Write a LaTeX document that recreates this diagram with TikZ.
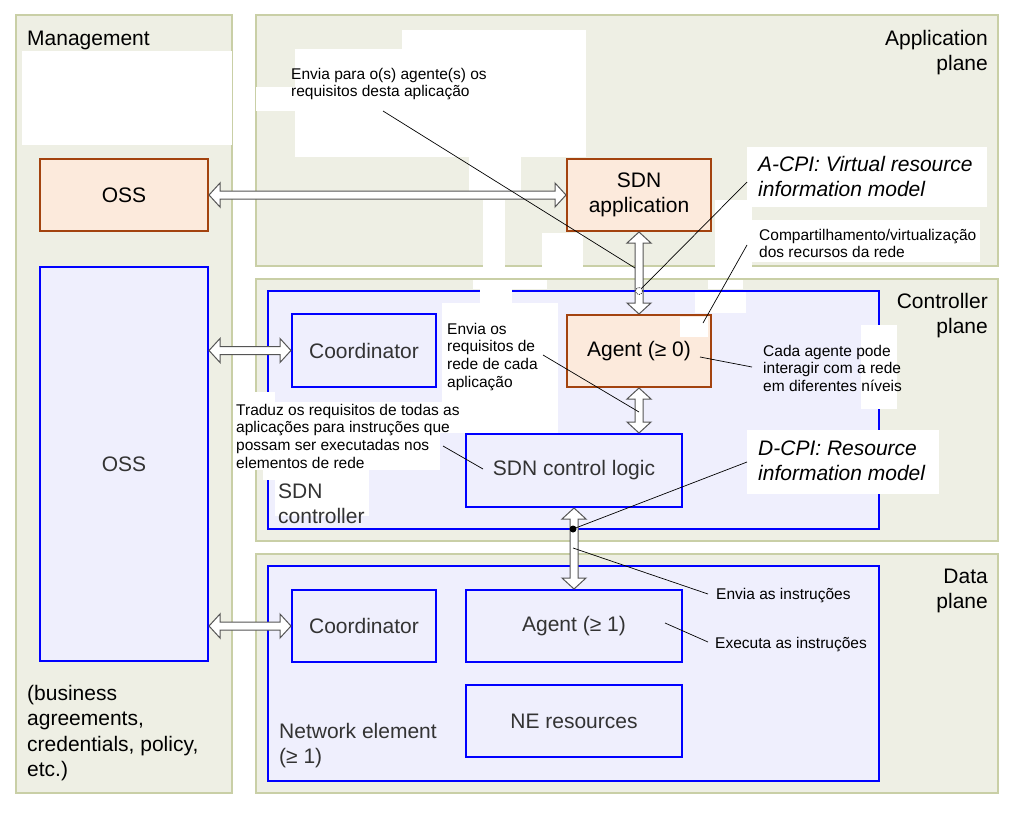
\documentclass[tikz,border=0pt]{standalone}
\usepackage{fontspec}
\setmainfont{Liberation Sans}
\usetikzlibrary{calc}
\definecolor{panelfill}{HTML}{EEEFE4}
\definecolor{panelline}{HTML}{C9CFA6}
\definecolor{bluefill}{HTML}{EFEFFD}
\definecolor{boxblue}{HTML}{0000FF}
\definecolor{orangefill}{HTML}{FCEADC}
\definecolor{orangeline}{HTML}{A3430F}
\definecolor{textgray}{HTML}{333333}
\definecolor{arrowgray}{HTML}{555555}
\newcommand\bigfont{\fontsize{21}{25.5}\selectfont}
\newcommand\smallfont{\fontsize{15.5}{17.8}\selectfont}
\newcommand\Lft[1]{\vtop{\halign{##\hfil\cr#1\crcr}}}
\newcommand\Rgt[1]{\vtop{\halign{\hfil##\cr#1\crcr}}}
\newcommand\Ctr[1]{\vtop{\halign{\hfil##\hfil\cr#1\crcr}}}
\newcommand\varrow[2]{%
  \path[hollow] let \p1=(#1), \p2=(#2) in
  (\x1,\y1) -- (\x1+12pt,\y1-11pt) -- (\x1+4pt,\y1-11pt) -- (\x1+4pt,\y2+11pt)
  -- (\x1+12pt,\y2+11pt) -- (\x1,\y2) -- (\x1-12pt,\y2+11pt) -- (\x1-4pt,\y2+11pt)
  -- (\x1-4pt,\y1-11pt) -- (\x1-12pt,\y1-11pt) -- cycle;}
\newcommand\harrow[2]{%
  \path[hollow] let \p1=(#1), \p2=(#2) in
  (\x1,\y1) -- (\x1+11pt,\y1+12pt) -- (\x1+11pt,\y1+4pt) -- (\x2-11pt,\y1+4pt)
  -- (\x2-11pt,\y1+12pt) -- (\x2,\y1) -- (\x2-11pt,\y1-12pt) -- (\x2-11pt,\y1-4pt)
  -- (\x1+11pt,\y1-4pt) -- (\x1+11pt,\y1-12pt) -- cycle;}
\tikzset{
  panel/.style={draw=panelline, fill=panelfill, line width=1.5pt},
  patch/.style={fill=white},
  bluebox/.style={draw=boxblue, fill=bluefill, line width=2pt, inner sep=0pt,
    text=textgray, font=\bigfont},
  orangebox/.style={draw=orangeline, fill=orangefill, line width=2pt, inner sep=0pt,
    text=black, font=\bigfont},
  hollow/.style={draw=arrowgray, fill=white, line width=1pt, line join=miter},
  leader/.style={draw=black, line width=0.7pt},
  bigtext/.style={font=\bigfont, inner sep=0pt, text=black},
  graytext/.style={font=\bigfont, inner sep=0pt, text=textgray},
  note/.style={font=\smallfont, inner sep=0pt, text=black},
  itnote/.style={font=\bigfont\itshape, inner sep=0pt, text=black},
  openmark/.style={circle, draw=black, dashed, dash pattern=on 1pt off 1pt,
    fill=white, minimum size=7pt, inner sep=0pt, line width=0.6pt},
  dotmark/.style={circle, fill=black, minimum size=7pt, inner sep=0pt},
}
\begin{document}
\begin{tikzpicture}[x=1pt, y=-1pt]
\useasboundingbox[fill=white] (0,0) rectangle (1017,814);
% panels
\path[panel] (16,15) rectangle (232,793);
\path[panel] (256,15) rectangle (998,266);
\path[panel] (256,279) rectangle (998,541);
\path[panel] (256,554) rectangle (998,793);
% white patches (over panels)
\fill[patch] (22,51) rectangle (232,145);
\fill[patch] (402,30) rectangle (586,49);
\fill[patch] (295,49) rectangle (586,157);
\fill[patch] (256,87) rectangle (295,111);
\fill[patch] (469,157) rectangle (521,191);
\fill[patch] (483,200) rectangle (505,267);
\fill[patch] (542,233) rectangle (583,267);
\fill[patch] (715,200) rectangle (752,267);
\fill[patch] (747,147) rectangle (987,207);
\fill[patch] (752,220) rectangle (980,262);
\fill[patch] (473,280) rectangle (547,289);
\fill[patch] (708,280) rectangle (743,289);
% outer boxes
\node[orangebox, minimum width=168pt, minimum height=72pt] (ossTop) at (124,195) {OSS};
\node[bluebox, minimum width=168pt, minimum height=394pt] (ossBig) at (124,464) {OSS};
\node[orangebox, minimum width=144pt, minimum height=72pt] (sdnApp) at (639,195) {\Ctr{SDN\cr application}};
\node[bluebox, minimum width=611pt, minimum height=238pt] (sdnCtrl) at (573.5,410) {};
\node[bluebox, minimum width=611pt, minimum height=215pt] (neBox) at (573.5,673.5) {};
% white patches over controller box
\fill[patch] (442,303) rectangle (558,433);
\fill[patch] (480,289) rectangle (512,303);
\fill[patch] (695,292) rectangle (746,313);
\fill[patch] (861,325) rectangle (897,409);
\fill[patch] (233,392) rectangle (275,402);
\fill[patch] (233,402) rectangle (463,433);
\fill[patch] (233,433) rectangle (440,470);
\fill[patch] (263,470) rectangle (275,480);
\fill[patch] (275,470) rectangle (369,516);
\fill[patch] (747,430) rectangle (939,494);
% inner boxes
\node[bluebox, minimum width=144pt, minimum height=73pt] (coordC) at (364,350.5) {Coordinator};
\node[orangebox, minimum width=144pt, minimum height=72pt] (agent0) at (639,351) {Agent (≥ 0)};
\node[bluebox, minimum width=216pt, minimum height=73pt] (ctrlLogic) at (574,470.5) {SDN control logic};
\node[bluebox, minimum width=144pt, minimum height=72pt] (coordD) at (364,626) {Coordinator};
\node[bluebox, minimum width=216pt, minimum height=72pt] (agent1) at (574,626) {Agent (≥ 1)};
\node[bluebox, minimum width=216pt, minimum height=72pt] (neRes) at (574,721) {NE resources};
\fill[patch] (680,317) rectangle (708,337);
% hollow double arrows
\harrow{ossTop.east}{sdnApp.west}
\harrow{ossBig.east |- coordC.west}{coordC.west}
\harrow{ossBig.east |- coordD.west}{coordD.west}
\varrow{sdnApp.south}{agent0.north}
\varrow{agent0.south}{agent0.south |- ctrlLogic.north}
\varrow{ctrlLogic.south}{agent1.north}
% markers
\node[openmark] (acpiDot) at (639,291) {};
\node[dotmark] (dcpiDot) at (573,529) {};
% plane and block labels
\node[bigtext, anchor=base west] (mgmtLbl) at (27,45) {Management};
\node[bigtext, anchor=base east] (appLbl) at (988,45) {\Rgt{Application\cr plane}};
\node[bigtext, anchor=base east] (ctrlLbl) at (988,308) {\Rgt{Controller\cr plane}};
\node[bigtext, anchor=base east] (dataLbl) at (988,583) {\Rgt{Data\cr plane}};
\node[graytext, anchor=base west] (sdnCtrlLbl) at (278,498) {\Lft{SDN\cr controller}};
\node[graytext, anchor=base west] (neLbl) at (279,738) {\Lft{Network element\cr (≥ 1)}};
\node[bigtext, anchor=base west] (bizLbl) at (27,700) {\Lft{(business\cr agreements,\cr credentials, policy,\cr etc.)}};
% notes
\node[note, anchor=base west] (n1) at (291,79) {\Lft{Envia para o(s) agente(s) os\cr requisitos desta aplicação}};
\node[itnote, anchor=base west] (acpi) at (758,171) {\Lft{A-CPI: Virtual resource\cr information model}};
\node[note, anchor=base west] (n2) at (759,240) {\Lft{Compartilhamento/virtualização\cr dos recursos da rede}};
\node[note, anchor=base west] (n3) at (763,356) {\Lft{Cada agente pode\cr interagir com a rede\cr em diferentes níveis}};
\node[note, anchor=base west] (n4) at (447,334) {\Lft{Envia os\cr requisitos de\cr rede de cada\cr aplicação}};
\node[note, anchor=base west] (n5) at (236,415) {\Lft{Traduz os requisitos de todas as\cr aplicações para instruções que\cr possam ser executadas nos\cr elementos de rede}};
\node[itnote, anchor=base west] (dcpi) at (758,455) {\Lft{D-CPI: Resource\cr information model}};
\node[note, anchor=base west] (n6) at (716,599) {Envia as instruções};
\node[note, anchor=base west] (n7) at (715,648) {Executa as instruções};
% leader lines
\coordinate (l1a) at (383,111); \coordinate (l1b) at (635,268);
\coordinate (l2a) at (747,182);
\coordinate (l3a) at (747,245); \coordinate (l3b) at (703,323);
\coordinate (l4a) at (752,367); \coordinate (l4b) at (700,357);
\coordinate (l5a) at (543,355); \coordinate (l5b) at (639,412);
\coordinate (l6a) at (443,446); \coordinate (l6b) at (483,469);
\coordinate (l7a) at (747,462);
\coordinate (l8a) at (573,548); \coordinate (l8b) at (708,594);
\coordinate (l9a) at (665,623); \coordinate (l9b) at (708,642);
\draw[leader] (l1a) -- (l1b);
\draw[leader] (l2a) -- (acpiDot);
\draw[leader] (l3a) -- (l3b);
\draw[leader] (l4a) -- (l4b);
\draw[leader] (l5a) -- (l5b);
\draw[leader] (l6a) -- (l6b);
\draw[leader] (l7a) -- (dcpiDot.center);
\draw[leader] (l8a) -- (l8b);
\draw[leader] (l9a) -- (l9b);
\end{tikzpicture}
\end{document}
